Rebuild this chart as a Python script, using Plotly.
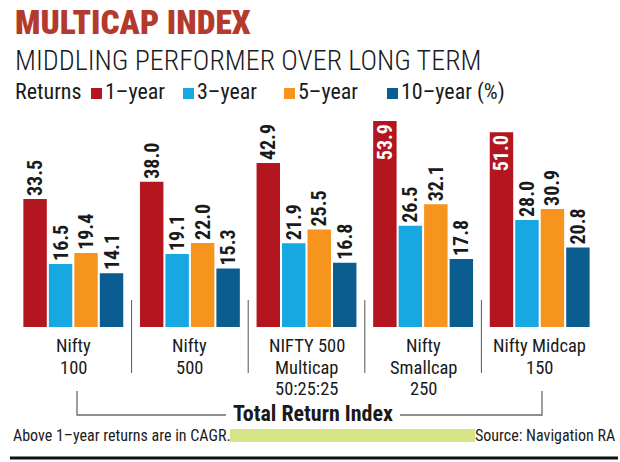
import plotly.graph_objects as go

# ---------------- data ----------------
categories = ["Nifty 100", "Nifty 500", "NIFTY 500 Multicap 50:25:25", "Nifty Smallcap 250", "Nifty Midcap 150"]
category_lines = [["Nifty", "100"], ["Nifty", "500"], ["NIFTY 500", "Multicap", "50:25:25"],
                  ["Nifty", "Smallcap", "250"], ["Nifty Midcap", "150"]]
series_names = ["1–year", "3–year", "5–year", "10–year (%)"]
ret_1y = [33.5, 38.0, 42.9, 53.9, 51.0]
ret_3y = [16.5, 19.1, 21.9, 26.5, 28.0]
ret_5y = [19.4, 22.0, 25.5, 32.1, 30.9]
ret_10y = [14.1, 15.3, 16.8, 17.8, 20.8]
series_values = [ret_1y, ret_3y, ret_5y, ret_10y]
colors = ["#b3161e", "#17a7e1", "#f7941d", "#0c5d8f"]

# ---------------- geometry helpers ----------------
W, H = 620, 462
L, R, T, B = 15, 22, 110, 135
PW, PH = W - L - R, H - T - B
def px(X):
    return (X - L) / PW
def py(Y):
    return (H - B - Y) / PH

COND = "Roboto Condensed, Open Sans Condensed, DejaVu Sans Condensed, sans-serif"

fig = go.Figure()
for si, (name, vals, col) in enumerate(zip(series_names, series_values, colors)):
    if si == 0:
        pos = ["inside" if v > 50 else "outside" for v in vals]
        tcol = ["white" if v > 50 else "#1a1a1a" for v in vals]
    else:
        pos = "outside"
        tcol = "#1a1a1a"
    fig.add_trace(go.Bar(
        x=categories, y=vals, name=name, marker=dict(color=col, line=dict(width=0)),
        texttemplate="%{y:.1f}", textposition=pos, textangle=-90,
        insidetextanchor="end", constraintext="none", cliponaxis=False,
        textfont=dict(family=COND, size=20, color=tcol, weight="bold"),
        hoverinfo="skip", showlegend=False,
    ))

shapes = []
ann = []

# separators between groups
for k in range(len(categories) - 1):
    shapes.append(dict(type="line", xref="x", yref="paper", x0=k + 0.5, x1=k + 0.5,
                       y0=py(300), y1=py(373), line=dict(color="#555555", width=1)))

# category labels (line by line)
for i, lines in enumerate(category_lines):
    for j, t in enumerate(lines):
        ann.append(dict(x=categories[i], xref="x", y=py(346 + j * 21.5), yref="paper", text=t,
                        showarrow=False, xanchor="center", yanchor="middle",
                        font=dict(family=COND, size=18.5, color="#1a1a1a")))

# bracket
bc = "#6a6a6a"
shapes.append(dict(type="path", xref="paper", yref="paper",
                   path=f"M {px(77)} {py(391)} L {px(77)} {py(415)} L {px(226)} {py(415)}",
                   line=dict(color=bc, width=1.3)))
shapes.append(dict(type="path", xref="paper", yref="paper",
                   path=f"M {px(400)} {py(415)} L {px(542)} {py(415)} L {px(542)} {py(391)}",
                   line=dict(color=bc, width=1.3)))
ann.append(dict(x=px(313), y=py(413.5), xref="paper", yref="paper", text="Total Return Index",
                showarrow=False, xanchor="center", yanchor="middle",
                font=dict(family=COND, size=22, color="#1a1a1a", weight="bold")))

# footer
ann.append(dict(x=px(11), y=py(435), xref="paper", yref="paper", text="Above 1–year returns are in CAGR.",
                showarrow=False, xanchor="left", yanchor="middle",
                font=dict(family=COND, size=16, color="#1a1a1a")))
shapes.append(dict(type="rect", xref="paper", yref="paper", x0=px(230), x1=px(475), y0=py(442), y1=py(429),
                   fillcolor="#d6e486", line=dict(width=0)))
ann.append(dict(x=px(617), y=py(435), xref="paper", yref="paper", text="Source: Navigation RA",
                showarrow=False, xanchor="right", yanchor="middle",
                font=dict(family=COND, size=16, color="#1a1a1a")))
shapes.append(dict(type="line", xref="paper", yref="paper", x0=px(10), x1=px(618), y0=py(458), y1=py(458),
                   line=dict(color="#111111", width=3)))

# titles
ann.append(dict(x=px(13), y=py(22), xref="paper", yref="paper", text="MULTICAP INDEX",
                showarrow=False, xanchor="left", yanchor="middle",
                font=dict(family=COND, size=33.5, color="#b43a2d", weight=900)))
ann.append(dict(x=px(13), y=py(60), xref="paper", yref="paper", text="MIDDLING PERFORMER OVER LONG TERM",
                showarrow=False, xanchor="left", yanchor="middle",
                font=dict(family=COND, size=28, color="#1a1a1a", weight=300)))

# legend
ann.append(dict(x=px(13), y=py(92), xref="paper", yref="paper", text="Returns",
                showarrow=False, xanchor="left", yanchor="middle",
                font=dict(family=COND, size=22, color="#1a1a1a")))
sq_x = [91, 183, 284, 387]
for name, col, sx in zip(series_names, colors, sq_x):
    shapes.append(dict(type="rect", xref="paper", yref="paper", x0=px(sx), x1=px(sx + 11),
                       y0=py(99), y1=py(88), fillcolor=col, line=dict(width=0)))
    ann.append(dict(x=px(sx + 12), y=py(92), xref="paper", yref="paper", text=name,
                    showarrow=False, xanchor="left", yanchor="middle",
                    font=dict(family=COND, size=22, color="#1a1a1a")))

fig.update_layout(
    width=W, height=H, margin=dict(l=L, r=R, t=T, b=B),
    paper_bgcolor="white", plot_bgcolor="white",
    barmode="group", bargap=0.126, bargroupgap=0.08,
    xaxis=dict(visible=False, range=[-0.5, 4.5]),
    yaxis=dict(visible=False, range=[0, 56.8]),
    shapes=shapes, annotations=ann, showlegend=False,
)
fig.write_html("out.html")
